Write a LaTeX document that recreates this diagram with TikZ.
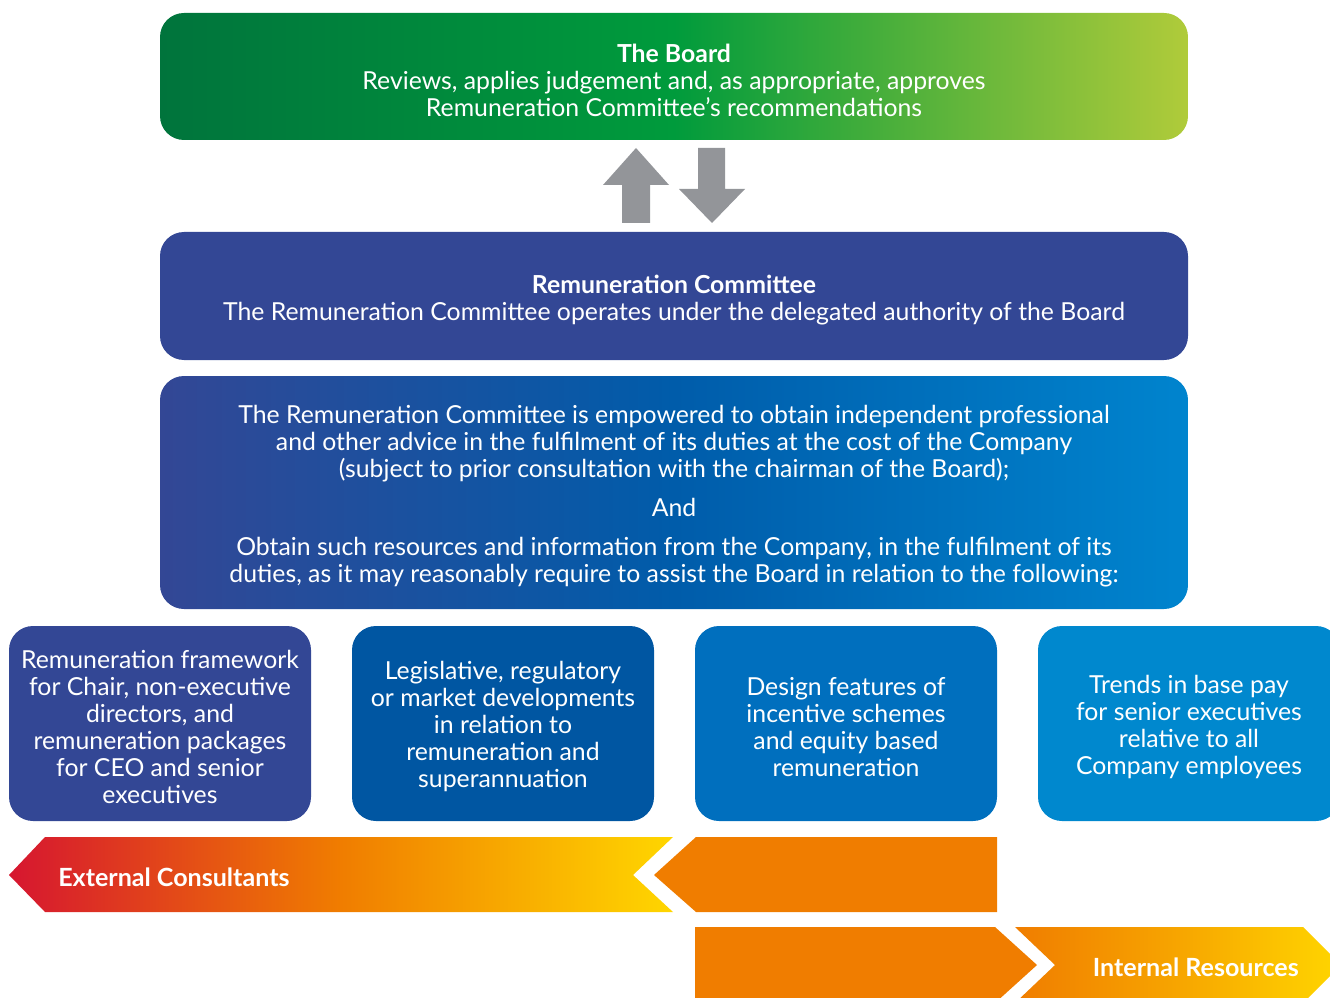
\documentclass[tikz,border=0pt]{standalone}
\usepackage{fontspec}
\setmainfont{Lato}
\newcommand{\pxl}{0.75pt}
\newcommand{\bodyfont}{\fontsize{18.6}{20.25}\selectfont}
% colours
\definecolor{boardL}{RGB}{0,116,60}
\definecolor{boardM}{RGB}{0,155,60}
\definecolor{boardR}{RGB}{176,203,58}
\definecolor{navy}{RGB}{51,71,149}
\definecolor{powersM}{RGB}{0,92,170}
\definecolor{powersR}{RGB}{0,132,206}
\definecolor{blueA}{RGB}{0,86,162}
\definecolor{blueB}{RGB}{0,111,190}
\definecolor{blueC}{RGB}{0,136,206}
\definecolor{arrowgrey}{RGB}{147,149,153}
\definecolor{redL}{RGB}{214,22,48}
\definecolor{orangeM}{RGB}{240,125,0}
\definecolor{yellowR}{RGB}{255,214,0}
\tikzset{
  panel/.style={rounded corners=18pt, inner sep=0pt},
  widepanel/.style={panel, minimum width=1028*\pxl},
  topic/.style={panel, minimum width=302*\pxl, minimum height=195*\pxl},
  words/.style={text=white, align=center, inner sep=0pt, font=\bodyfont},
  tag/.style={text=white, inner sep=0pt, font=\fontsize{18.8}{20.25}\selectfont\bfseries}
}
\begin{document}
\begin{tikzpicture}[x=0.75pt, y=-0.75pt]
  \useasboundingbox (0,0) rectangle (1330,998);

  % The Board
  \node[widepanel, minimum height=127*\pxl, left color=boardL,
    right color=boardR, middle color=boardM] (board) at (674,76.5) {};
  \node[words] (boardtext) at ([yshift=-2.8pt]board.center)
    {\textbf{The Board}\\Reviews, applies judgement and, as appropriate, approves\\
     Remuneration Committee’s recommendations};

  % Up and down block arrows
  \fill[arrowgrey] (636,148) -- (669,185) -- (650,185) -- (650,223)
    -- (622,223) -- (622,185) -- (603,185) -- cycle;
  \fill[arrowgrey] (712,223) -- (745,189) -- (725,189) -- (725,148)
    -- (698,148) -- (698,189) -- (679,189) -- cycle;

  % Remuneration Committee
  \node[widepanel, minimum height=128*\pxl, fill=navy] (remcom) at (674,296) {};
  \node[words] (remcomtext) at ([yshift=-2.8pt]remcom.center)
    {\textbf{Remuneration Committee}\\The Remuneration Committee operates
     under the delegated authority of the Board};

  % Powers of the committee
  \node[widepanel, minimum height=233*\pxl, left color=navy,
    right color=powersR, middle color=powersM] (powers) at (674,492.5) {};
  \node[words] (powerstext) at ([yshift=-3pt]powers.center)
    {The Remuneration Committee is empowered to obtain independent professional\\
     and other advice in the fulfilment of its duties at the cost of the Company\\
     (subject to prior consultation with the chairman of the Board);\\[9pt]
     And\\[9pt]
     Obtain such resources and information from the Company, in the fulfilment of its\\
     duties, as it may reasonably require to assist the Board in relation to the following:};

  % Topics
  \node[topic, fill=navy] (framework) at (160,723.5) {};
  \node[words] (frameworktext) at ([yshift=-2.5pt]framework.center)
    {Remuneration framework\\for Chair, non-executive\\directors, and\\
     remuneration packages\\for CEO and senior\\executives};
  \node[topic, fill=blueA] (legis) at (503,723.5) {};
  \node[words] (legistext) at ([yshift=-2.5pt]legis.center)
    {Legislative, regulatory\\or market developments\\in relation to\\
     remuneration and\\superannuation};
  \node[topic, fill=blueB] (design) at (846,723.5) {};
  \node[words] (designtext) at ([yshift=-2.5pt]design.center)
    {Design features of\\incentive schemes\\and equity based\\remuneration};
  \node[topic, fill=blueC] (trends) at (1189,723.5) {};
  \node[words] (trendstext) at ([yshift=-2.5pt]trends.center)
    {Trends in base pay\\for senior executives\\relative to all\\Company employees};

  % External Consultants
  \shade[left color=redL, right color=yellowR, middle color=orangeM]
    (9,875) -- (45,837) -- (673,837) -- (633,875) -- (673,912)
    -- (45,912) -- cycle;
  \fill[orangeM] (654,875) -- (696,837) -- (997,837) -- (997,912)
    -- (696,912) -- cycle;
  \node[tag, anchor=west] (extcons) at (58,877) {External Consultants};

  % Internal Resources
  \fill[orangeM] (695,927) -- (995,927) -- (1037,965) -- (995,1003)
    -- (695,1003) -- cycle;
  \shade[left color=orangeM, right color=yellowR, middle color=orangeM!55!yellowR]
    (1015,927) -- (1303,927) -- (1341,965) -- (1303,1003) -- (1015,1003)
    -- (1055,965) -- cycle;
  \node[tag, anchor=east] (intres) at (1299,967) {Internal Resources};
\end{tikzpicture}
\end{document}
